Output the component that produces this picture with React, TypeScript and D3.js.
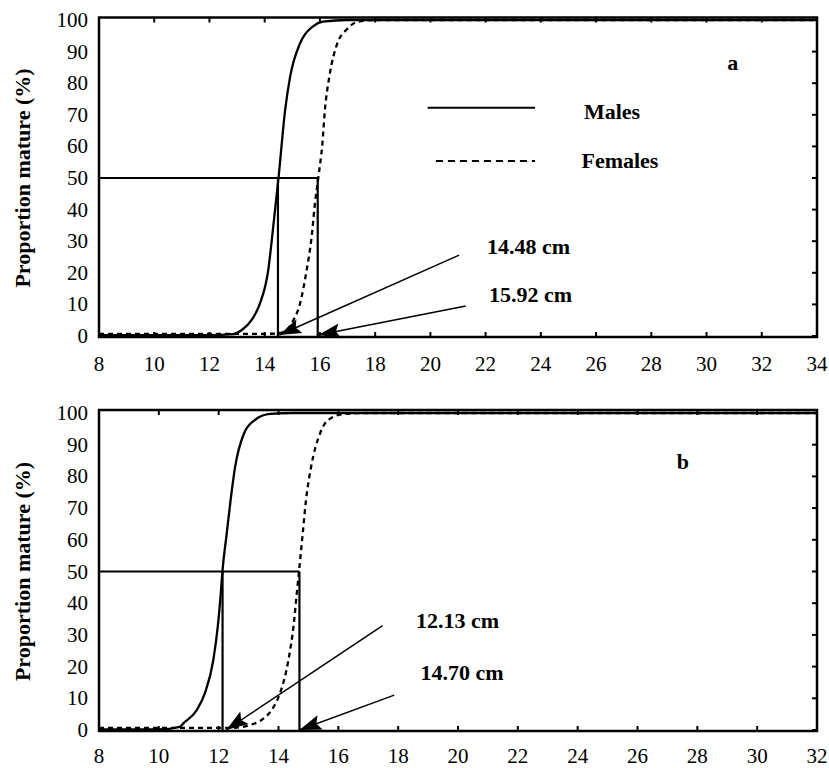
import React from 'react';
import * as d3 from 'd3';

// ---------- data ----------
type Pt = [number, number];

const xTicksA = [8, 10, 12, 14, 16, 18, 20, 22, 24, 26, 28, 30, 32, 34];
const xTicksB = [8, 10, 12, 14, 16, 18, 20, 22, 24, 26, 28, 30, 32];
const yTicks = [0, 10, 20, 30, 40, 50, 60, 70, 80, 90, 100];

// panel a (length cm, % mature)
const malesA: Pt[] = [
  [8, 0.3], [10, 0.3], [12, 0.3], [12.86, 0.6], [13.17, 1.9], [13.53, 5.1], [13.83, 10.3],
  [14.13, 20.9], [14.27, 31.4], [14.4, 42], [14.5, 50], [14.74, 71.5], [14.92, 82],
  [15.28, 92.6], [15.75, 98], [16.1, 99.5], [17, 100], [34, 100],
];
const femalesA: Pt[] = [
  [8, 0.7], [14, 0.7], [14.44, 0.8], [14.8, 2], [15.04, 5], [15.28, 10.3], [15.52, 20.9],
  [15.7, 31.4], [15.82, 42], [15.94, 50], [16.09, 61], [16.18, 71.5], [16.34, 82],
  [16.63, 92.6], [16.95, 96.8], [17.4, 99.5], [18, 100], [34, 100],
];
const l50A = [14.48, 15.92];
const l50LabelsA = ['14.48 cm', '15.92 cm'];

// panel b
const malesB: Pt[] = [
  [8, 0.2], [10, 0.2], [10.7, 1], [10.82, 2.1], [11.27, 6.3], [11.54, 11.6], [11.82, 22],
  [11.97, 32.6], [12.07, 43], [12.13, 50.5], [12.27, 62], [12.4, 72.6], [12.55, 83],
  [12.85, 93.6], [13.21, 97.8], [13.72, 99.7], [14.5, 100], [32, 100],
];
const femalesB: Pt[] = [
  [8, 0.7], [12.5, 0.7], [13.05, 1.6], [13.44, 3.2], [13.77, 6.3], [14.05, 11.6], [14.33, 22],
  [14.5, 32.6], [14.61, 43], [14.69, 50.5], [14.81, 62], [14.92, 72.6], [15.09, 83],
  [15.39, 93.6], [15.66, 97.8], [16.2, 99.7], [17, 100], [32, 100],
];
const l50B = [12.13, 14.7];
const l50LabelsB = ['12.13 cm', '14.70 cm'];

const seriesNames = ['Males', 'Females'];

// ---------- layout ----------
const W = 829;
const H = 768;
const LEFT = 99;
const RIGHT = 817;
const serifStyle = { fontFamily: "'Liberation Serif', 'Times New Roman', Times, serif" };

interface PanelCfg {
  xTicks: number[];
  males: Pt[];
  females: Pt[];
  l50: number[];
  l50Labels: string[];
  y0: number;
  y100: number;
  frameTop: number;
  frameBottom: number;
  xLabelY: number;
  arrows: { from: Pt; to: Pt }[];
  labelPos: Pt[];
  letter: string;
  letterPos: Pt;
  legend: boolean;
}

const panels: PanelCfg[] = [
  {
    xTicks: xTicksA, males: malesA, females: femalesA, l50: l50A, l50Labels: l50LabelsA,
    y0: 336, y100: 20, frameTop: 17.5, frameBottom: 337, xLabelY: 371,
    arrows: [
      { from: [21.04, 25.6], to: [14.53, 0.3] },
      { from: [21.28, 9.5], to: [15.94, 0.3] },
    ],
    labelPos: [[22.05, 28.3], [22.12, 13]],
    letter: 'a', letterPos: [30.95, 86.4], legend: true,
  },
  {
    xTicks: xTicksB, males: malesB, females: femalesB, l50: l50B, l50Labels: l50LabelsB,
    y0: 730, y100: 413, frameTop: 410, frameBottom: 731, xLabelY: 763,
    arrows: [
      { from: [17.48, 32.9], to: [12.25, 0] },
      { from: [17.87, 11.0], to: [14.7, 0] },
    ],
    labelPos: [[18.6, 34.5], [18.75, 18.2]],
    letter: 'b', letterPos: [27.52, 84.6], legend: false,
  },
];

function arrowHead(x1: number, y1: number, x2: number, y2: number) {
  const dx = x2 - x1;
  const dy = y2 - y1;
  const len = Math.sqrt(dx * dx + dy * dy);
  const ux = dx / len;
  const uy = dy / len;
  const px = -uy;
  const py = ux;
  const L = 22;
  const hw = 7.5;
  const notch = 18;
  const bx = x2 - ux * L;
  const by = y2 - uy * L;
  const nx = x2 - ux * notch;
  const ny = y2 - uy * notch;
  return `M${x2},${y2} L${bx + px * hw},${by + py * hw} L${nx},${ny} L${bx - px * hw},${by - py * hw} Z`;
}

function Panel({ cfg }: { cfg: PanelCfg }) {
  const x = d3.scaleLinear().domain([cfg.xTicks[0], cfg.xTicks[cfg.xTicks.length - 1]]).range([LEFT, RIGHT]);
  const y = d3.scaleLinear().domain([0, 100]).range([cfg.y0, cfg.y100]);
  const line = d3.line<Pt>().x((d) => x(d[0])).y((d) => y(d[1])).curve(d3.curveMonotoneX);
  const tickLen = 5;
  const midY = (cfg.y0 + cfg.y100) / 2;

  return (
    <g style={serifStyle}>
      {/* curves */}
      <path d={line(cfg.males) || ''} fill="none" stroke="#000" strokeWidth={2.3} />
      <path d={line(cfg.females) || ''} fill="none" stroke="#000" strokeWidth={2.3} strokeDasharray="5,4" />

      {/* L50 reference lines */}
      <path
        d={`M${x(cfg.xTicks[0])},${y(50)} H${x(cfg.l50[1])}`}
        fill="none" stroke="#000" strokeWidth={2}
      />
      {cfg.l50.map((v, i) => (
        <line key={i} x1={x(v)} x2={x(v)} y1={y(50)} y2={y(0)} stroke="#000" strokeWidth={2.2} />
      ))}

      {/* arrows */}
      {cfg.arrows.map((a, i) => {
        const x1 = x(a.from[0]);
        const y1 = y(a.from[1]);
        const x2 = x(a.to[0]);
        const y2 = y(a.to[1]);
        return (
          <g key={i}>
            <line x1={x1} y1={y1} x2={x2} y2={y2} stroke="#000" strokeWidth={1.5} />
            <path d={arrowHead(x1, y1, x2, y2)} fill="#000" />
          </g>
        );
      })}

      {/* annotation labels */}
      {cfg.l50Labels.map((t, i) => (
        <text key={i} x={x(cfg.labelPos[i][0])} y={y(cfg.labelPos[i][1])}
          fontWeight="bold" fontSize={22} dominantBaseline="central">{t}</text>
      ))}
      <text x={x(cfg.letterPos[0])} y={y(cfg.letterPos[1])} fontWeight="bold"
        fontSize={22} textAnchor="middle" dominantBaseline="central">{cfg.letter}</text>

      {/* legend */}
      {cfg.legend && (
        <g>
          <line x1={x(19.9)} x2={x(23.79)} y1={y(72.2)} y2={y(72.2)} stroke="#000" strokeWidth={2} />
          <line x1={x(20.2)} x2={x(23.79)} y1={y(55.4)} y2={y(55.4)} stroke="#000" strokeWidth={2}
            strokeDasharray="7,5" />
          <text x={x(25.56)} y={y(71.2)} fontWeight="bold" fontSize={22}
            dominantBaseline="central">{seriesNames[0]}</text>
          <text x={x(25.47)} y={y(55.4)} fontWeight="bold" fontSize={22}
            dominantBaseline="central">{seriesNames[1]}</text>
        </g>
      )}

      {/* frame */}
      <rect x={LEFT} y={cfg.frameTop} width={RIGHT - LEFT} height={cfg.frameBottom - cfg.frameTop}
        fill="none" stroke="#000" strokeWidth={2.5} />

      {/* x ticks (inward, bottom and top) */}
      {cfg.xTicks.map((t) => (
        <g key={t}>
          <line x1={x(t)} x2={x(t)} y1={cfg.frameBottom} y2={cfg.frameBottom - tickLen} stroke="#000" strokeWidth={2} />
          <line x1={x(t)} x2={x(t)} y1={cfg.frameTop} y2={cfg.frameTop + tickLen} stroke="#000" strokeWidth={2} />
          <text x={x(t)} y={cfg.xLabelY} fontSize={21} textAnchor="middle">{t}</text>
        </g>
      ))}

      {/* y ticks (right side inward) and labels */}
      {yTicks.map((t) => (
        <g key={t}>
          <line x1={RIGHT} x2={RIGHT - tickLen} y1={y(t)} y2={y(t)} stroke="#000" strokeWidth={2} />
          <text x={88} y={y(t)} fontSize={21} textAnchor="end"
            dominantBaseline="central">{t}</text>
        </g>
      ))}

      {/* y title */}
      <text transform={`translate(30,${midY}) rotate(-90)`} fontWeight="bold"
        fontSize={22} textAnchor="middle">Proportion mature (%)</text>
    </g>
  );
}

export default function App() {
  return (
    <svg width={W} height={H} viewBox={`0 0 ${W} ${H}`}
      style={{ position: 'absolute', left: 0, top: 0, background: '#fff' }}>
      <rect x={0} y={0} width={W} height={H} fill="#fff" />
      {panels.map((p, i) => (
        <Panel key={i} cfg={p} />
      ))}
    </svg>
  );
}
